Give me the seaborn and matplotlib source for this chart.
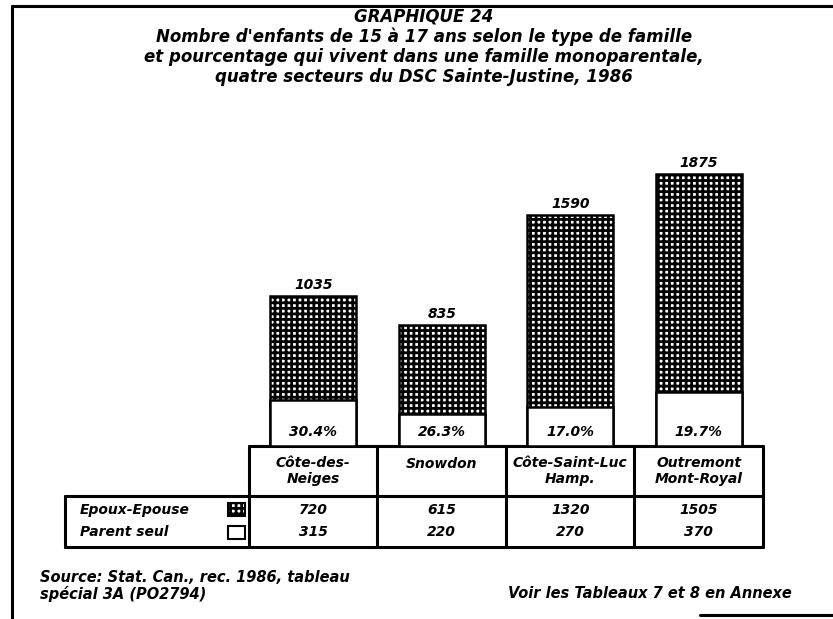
import matplotlib.pyplot as plt
import seaborn as sns
import pandas as pd

# data
secteurs = ['Côte-des-\nNeiges', 'Snowdon', 'Côte-Saint-Luc\nHamp.', 'Outremont\nMont-Royal']
epoux_epouse = [720, 615, 1320, 1505]
parent_seul = [315, 220, 270, 370]
pourcentages = ['30.4%', '26.3%', '17.0%', '19.7%']

df = pd.DataFrame({'secteur': secteurs, 'epoux': epoux_epouse, 'parent': parent_seul})
df['total'] = df['epoux'] + df['parent']

sns.set_theme(style='white')
plt.rcParams['font.family'] = ['DejaVu Sans']
plt.rcParams['hatch.linewidth'] = 2.0
plt.rcParams['hatch.color'] = 'black'

W, H = 833, 619
fig = plt.figure(figsize=(W / 100, H / 100), dpi=100)
txt = dict(fontstyle='italic', fontweight='bold', color='black')

# overlay in pixel coordinates for the frame, table and text
bg = fig.add_axes([0, 0, 1, 1])
bg.set_xlim(0, W)
bg.set_ylim(H, 0)
bg.axis('off')

# table columns (equal widths) and bar axes aligned to them
left, right = 249, 763
base_px, head_px, bottom_px = 446, 496, 547
cols = [left + (right - left) * k / 4 for k in range(5)]

scale = 0.145  # px per child
ymax = 2000
ax = fig.add_axes([left / W, (H - base_px) / H, (right - left) / W, ymax * scale / H])

sns.barplot(data=df, x='secteur', y='total', color='white', edgecolor='black',
            linewidth=1.8, hatch='+++', width=0.67, saturation=1, ax=ax)
sns.barplot(data=df, x='secteur', y='parent', color='white', edgecolor='black',
            linewidth=1.8, width=0.67, saturation=1, ax=ax)
ax.set_ylim(0, ymax)
ax.set_xlim(-0.5, 3.5)
ax.axis('off')

for i, row in df.iterrows():
    ax.text(i, row['total'] + 30, f"{row['total']}", ha='center', va='bottom', fontsize=10, **txt)
    ax.text(i, 95, pourcentages[i], ha='center', va='center', fontsize=10, **txt)

# title, one line at a time
title_lines = ['GRAPHIQUE 24',
               "Nombre d'enfants de 15 à 17 ans selon le type de famille",
               "et pourcentage qui vivent dans une famille monoparentale,",
               "quatre secteurs du DSC Sainte-Justine, 1986"]
for k, line in enumerate(title_lines):
    bg.text(424, 17 + 20 * k, line, ha='center', va='center', fontsize=12, **txt)

# frame of the page
lw = 2.2
bg.plot([12, W], [6, 6], color='black', lw=lw)
bg.plot([12, 12], [6, H], color='black', lw=lw)
bg.plot([700, W], [615, 615], color='black', lw=lw)

# table
bg.plot([left, right], [base_px, base_px], color='black', lw=lw)
bg.plot([65, right], [head_px, head_px], color='black', lw=lw)
bg.plot([65, right], [bottom_px, bottom_px], color='black', lw=lw)
bg.plot([65, 65], [head_px, bottom_px], color='black', lw=lw)
for x in cols:
    bg.plot([x, x], [base_px, bottom_px], color='black', lw=lw)

for i, name in enumerate(secteurs):
    cx = (cols[i] + cols[i + 1]) / 2
    if '\n' in name:
        bg.text(cx, 471, name, ha='center', va='center', fontsize=10, linespacing=1.15, **txt)
    else:
        bg.text(cx, 464, name, ha='center', va='center', fontsize=10, **txt)
    bg.text(cx, 510, str(epoux_epouse[i]), ha='center', va='center', fontsize=10, **txt)
    bg.text(cx, 532, str(parent_seul[i]), ha='center', va='center', fontsize=10, **txt)

bg.text(80, 510, 'Epoux-Epouse', ha='left', va='center', fontsize=10, **txt)
bg.text(80, 532, 'Parent seul', ha='left', va='center', fontsize=10, **txt)
bg.add_patch(plt.Rectangle((228, 503), 17, 13, facecolor='white', edgecolor='black',
                           lw=1.5, hatch='+++'))
bg.add_patch(plt.Rectangle((228, 526), 17, 13, facecolor='white', edgecolor='black', lw=1.5))

# notes
bg.text(40, 577, 'Source: Stat. Can., rec. 1986, tableau', ha='left', va='center',
        fontsize=10.5, **txt)
bg.text(40, 594, 'spécial 3A (PO2794)', ha='left', va='center', fontsize=10.5, **txt)
bg.text(508, 593, 'Voir les Tableaux 7 et 8 en Annexe', ha='left', va='center',
        fontsize=10.5, **txt)

fig.savefig('out.png', dpi=100)
